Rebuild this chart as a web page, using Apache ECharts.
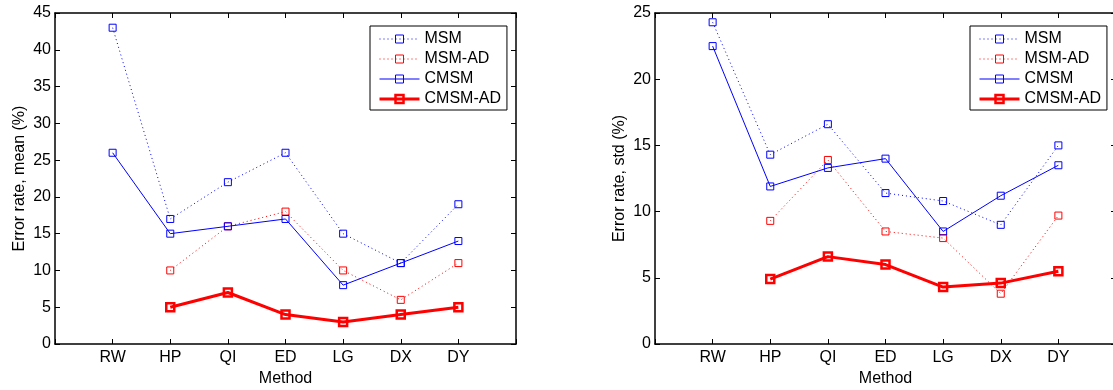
<!DOCTYPE html>
<html>
<head>
<meta charset="utf-8">
<script src="https://cdn.jsdelivr.net/npm/echarts@6/dist/echarts.min.js"></script>
<style>
  html, body { margin: 0; padding: 0; background: #fff; }
  #main { width: 1113px; height: 390px; }
</style>
</head>
<body>
<div id="main"></div>
<script>
  let methods = ['RW', 'HP', 'QI', 'ED', 'LG', 'DX', 'DY'];
  let names = ['MSM', 'MSM-AD', 'CMSM', 'CMSM-AD'];

  // error rate, mean (%)
  let msmMean = [43, 17, 22, 26, 15, 11, 19];
  let msmAdMean = [null, 10, 16, 18, 10, 6, 11];
  let cmsmMean = [26, 15, 16, 17, 8, 11, 14];
  let cmsmAdMean = [null, 5, 7, 4, 3, 4, 5];

  // error rate, std (%)
  let msmStd = [24.3, 14.3, 16.6, 11.4, 10.8, 9.0, 15.0];
  let msmAdStd = [null, 9.3, 13.9, 8.5, 8.0, 3.8, 9.7];
  let cmsmStd = [22.5, 11.9, 13.3, 14.0, 8.5, 11.2, 13.5];
  let cmsmAdStd = [null, 4.9, 6.6, 6.0, 4.3, 4.6, 5.5];

  let meanMax = 45, stdMax = 25, yStep = 5;

  let font = 'Liberation Sans, Arial, Helvetica, sans-serif';
  let black = '#000';

  function pairs(arr) {
    let out = [];
    arr.forEach((v, i) => {
      if (v !== null) out.push([i + 1, v]);
    });
    return out;
  }

  function xAxes(grid, pos, name) {
    let axis = {
      type: 'value',
      gridIndex: grid,
      position: pos,
      min: 0,
      max: methods.length + 1,
      interval: 1,
      splitLine: { show: false },
      axisLine: { show: true, onZero: false, lineStyle: { color: black, width: 1.5 } },
      axisTick: { show: true, inside: true, length: 5, lineStyle: { color: black, width: 1 } },
      axisLabel: { show: false }
    };
    if (pos === 'bottom') {
      axis.axisLabel = {
        show: true,
        margin: 6,
        color: black,
        fontSize: 16,
        fontFamily: font,
        formatter: v => methods[v - 1] || ''
      };
      axis.name = name;
      axis.nameLocation = 'middle';
      axis.nameGap = 25;
      axis.nameTextStyle = { color: black, fontSize: 16, fontFamily: font };
    }
    return axis;
  }

  function yAxes(grid, pos, max, name) {
    let axis = {
      type: 'value',
      gridIndex: grid,
      position: pos,
      min: 0,
      max: max,
      interval: yStep,
      splitLine: { show: false },
      axisLine: { show: true, onZero: false, lineStyle: { color: black, width: 1.5 } },
      axisTick: { show: true, inside: true, length: 5, lineStyle: { color: black, width: 1 } },
      axisLabel: { show: false }
    };
    if (pos === 'left') {
      axis.axisLabel = { show: true, margin: 4, color: black, fontSize: 16, fontFamily: font };
      axis.name = name;
      axis.nameLocation = 'middle';
      axis.nameGap = 27;
      axis.nameTextStyle = { color: black, fontSize: 16, fontFamily: font };
    }
    return axis;
  }

  let styles = {
    'MSM': { color: '#0000ff', width: 1, type: [1, 3], size: 7, border: 1 },
    'MSM-AD': { color: '#ff0000', width: 1, type: [1, 3], size: 7, border: 1 },
    'CMSM': { color: '#0000ff', width: 1, type: 'solid', size: 7, border: 1 },
    'CMSM-AD': { color: '#ff0000', width: 3, type: 'solid', size: 8, border: 2.5 }
  };

  function makeSeries(name, data, axisIdx) {
    let s = styles[name];
    return {
      name: name,
      type: 'line',
      xAxisIndex: axisIdx,
      yAxisIndex: axisIdx,
      data: pairs(data),
      color: s.color,
      symbol: 'rect',
      symbolSize: s.size,
      lineStyle: { color: s.color, width: s.width, type: s.type },
      itemStyle: { color: 'rgba(255,255,255,0)', borderColor: s.color, borderWidth: s.border },
      emphasis: { disabled: true }
    };
  }

  function makeLegend(left) {
    return {
      data: names.map(n => ({
        name: n,
        lineStyle: { color: styles[n].color, width: styles[n].width, type: styles[n].type },
        itemStyle: { color: 'rgba(255,255,255,0)', borderColor: styles[n].color, borderWidth: styles[n].border }
      })),
      orient: 'vertical',
      left: left,
      top: 26,
      itemWidth: 40,
      itemHeight: 10,
      itemGap: 4,
      padding: [5, 6, 3, 8],
      backgroundColor: '#fff',
      borderColor: black,
      borderWidth: 1,
      borderRadius: 0,
      selectedMode: false,
      textStyle: { color: black, fontSize: 16, fontFamily: font }
    };
  }

  var myChart = echarts.init(document.getElementById('main'));
  var option = {
    animation: false,
    backgroundColor: '#fff',
    grid: [
      { left: 55, top: 13, width: 461, height: 331, outerBoundsMode: 'none' },
      { left: 655, top: 13, width: 461, height: 331, outerBoundsMode: 'none' }
    ],
    legend: [makeLegend(370), makeLegend(970)],
    xAxis: [
      xAxes(0, 'bottom', 'Method'),
      xAxes(1, 'bottom', 'Method'),
      xAxes(0, 'top'),
      xAxes(1, 'top')
    ],
    yAxis: [
      yAxes(0, 'left', meanMax, 'Error rate, mean (%)'),
      yAxes(1, 'left', stdMax, 'Error rate, std (%)'),
      yAxes(0, 'right', meanMax),
      yAxes(1, 'right', stdMax)
    ],
    series: [
      makeSeries('MSM', msmMean, 0),
      makeSeries('MSM-AD', msmAdMean, 0),
      makeSeries('CMSM', cmsmMean, 0),
      makeSeries('CMSM-AD', cmsmAdMean, 0),
      makeSeries('MSM', msmStd, 1),
      makeSeries('MSM-AD', msmAdStd, 1),
      makeSeries('CMSM', cmsmStd, 1),
      makeSeries('CMSM-AD', cmsmAdStd, 1)
    ]
  };
  myChart.setOption(option);
</script>
</body>
</html>
